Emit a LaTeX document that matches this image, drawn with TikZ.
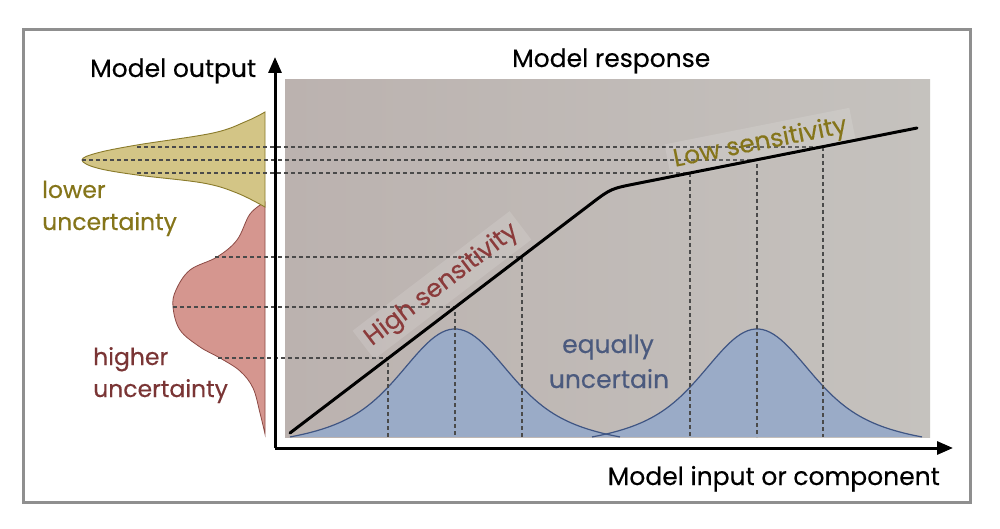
\documentclass[tikz,border=0pt]{standalone}
\usepackage{fontspec}
\setmainfont{Poppins}[FakeBold=0.35]
\usetikzlibrary{arrows.meta}
\definecolor{framegray}{HTML}{8F8F8F}
\definecolor{panelL}{HTML}{BBB2AF}
\definecolor{panelR}{HTML}{C5C2BE}
\definecolor{olivefill}{HTML}{D3C586}
\definecolor{oliveline}{HTML}{8A7B2B}
\definecolor{olivetext}{HTML}{85751A}
\definecolor{redfill}{HTML}{D5968F}
\definecolor{redline}{HTML}{8C4A45}
\definecolor{redtext}{HTML}{7A3535}
\definecolor{hightext}{HTML}{8B3B3B}
\definecolor{bluefill}{HTML}{9AABC7}
\definecolor{blueline}{HTML}{3F5583}
\definecolor{bluetext}{HTML}{4B5A7E}
\definecolor{dashgray}{HTML}{4A4A4A}
\tikzset{
  lbl/.style={font=\fontsize{25}{28}\selectfont, inner sep=0pt},
  unc/.style={font=\fontsize{23.5}{27}\selectfont, inner sep=0pt, anchor=base west},
  sens/.style={lbl, fill=white, fill opacity=0.13, text opacity=1, inner xsep=6pt, inner ysep=5pt, anchor=base west},
  guide/.style={draw=dashgray, line width=1.6pt, dash pattern=on 4pt off 3pt},
  axis/.style={line width=3pt, -{Triangle[length=16pt,width=13pt]}},
}
\begin{document}
\begin{tikzpicture}[x=1pt,y=-1pt]
\useasboundingbox (0,0) rectangle (1000,529);
\fill[white] (0,0) rectangle (1000,529);
% frame
\draw[framegray, line width=3pt] (23,30) rectangle (970,502);
% panel
\shade[left color=panelL, right color=panelR] (285,80) rectangle (930,437);
% blue distributions
\foreach \c in {455,757}{
  \fill[bluefill] plot[domain=-165:165, samples=90]
    ({\c+\x},{437-108*(0.6*exp(-0.5*(\x/45)^2)+0.4*exp(-0.5*(\x/90)^2)-0.0746)/0.925}) -- cycle;
}
\foreach \c in {455,757}{
  \draw[blueline, line width=1.2pt] plot[domain=-165:165, samples=90]
    ({\c+\x},{437-108*(0.6*exp(-0.5*(\x/45)^2)+0.4*exp(-0.5*(\x/90)^2)-0.0746)/0.925});
}
% output distributions
\filldraw[fill=redfill, draw=redline, line width=0.8pt] plot[smooth, tension=0.6] coordinates {(265,202) (250,214) (237,240) (217,257) (190,270) (176,290) (173,307) (180,330) (200,347) (220,358) (240,371) (253,388) (260,413) (265,434)} -- cycle;
\filldraw[fill=olivefill, draw=oliveline, line width=0.9pt] plot[smooth, tension=0.6] coordinates {(265,112) (247,121) (213,133) (137,145) (97,153) (82,160) (97,168) (137,175) (203,183) (237,193) (265,207)} -- cycle;
% points on the response curve
\coordinate (h1) at (388,358);
\coordinate (h2) at (455,307);
\coordinate (h3) at (522,257);
\coordinate (l1) at (690,173);
\coordinate (l2) at (757,160);
\coordinate (l3) at (823,147);
% guides
\draw[guide] (218,358) -- (h1) -- (388,437);
\draw[guide] (173,307) -- (h2) -- (455,437);
\draw[guide] (215,257) -- (h3) -- (522,437);
\draw[guide] (137,173) -- (l1) -- (690,437);
\draw[guide] (82,160) -- (l2) -- (757,437);
\draw[guide] (137,147) -- (l3) -- (823,437);
% sensitivity labels
\node[sens, text=hightext, rotate=37.3] (hs) at (367,350) {High sensitivity};
\node[sens, text=olivetext, rotate=11.2] (ls) at (669,168) {Low sensitivity};
% response curve
\coordinate (r0) at (290,433);
\coordinate (r1) at (592,203);
\coordinate (r2) at (638,183.3);
\coordinate (r3) at (917,128);
\draw[line width=3pt, line cap=round] (r0) -- (r1) .. controls (611,188.6) .. (r2) -- (r3);
% axes
\coordinate (o) at (275,448);
\coordinate (ytip) at (275,57);
\coordinate (xtip) at (953,448);
\draw[axis] (o) -- (ytip);
\draw[axis] (o) -- (xtip);
% texts
\node[lbl, anchor=base west] (yl) at (90,77) {Model output};
\node[lbl, anchor=base west] (tl) at (512,67) {Model response};
\node[lbl, anchor=base east] (xl) at (940,485) {Model input or component};
\node[unc, text=olivetext] (lo1) at (42,198) {lower};
\node[unc, text=olivetext] (lo2) at (42,230) {uncertainty};
\node[unc, text=redtext] (hi1) at (93,365) {higher};
\node[unc, text=redtext] (hi2) at (93,397) {uncertainty};
\node[lbl, anchor=base, text=bluetext] (eq1) at (608,353) {equally};
\node[lbl, anchor=base, text=bluetext] (eq2) at (609,388) {uncertain};
\end{tikzpicture}
\end{document}
